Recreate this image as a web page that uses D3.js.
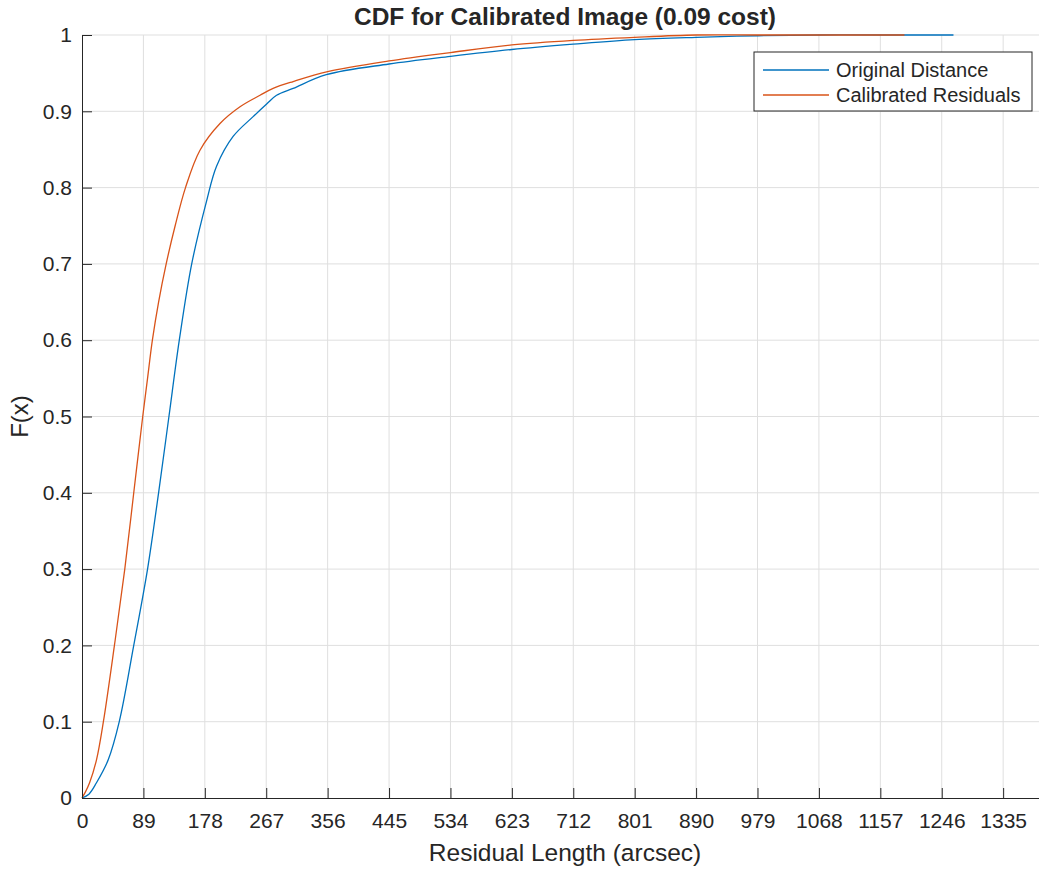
<!DOCTYPE html>
<html lang="en">

<head>
    <meta charset="UTF-8">
    <title>CDF for Calibrated Image</title>
    <style>
        body { margin: 0; background: #fff; }
        svg text { font-family: "Liberation Sans", Arial, Helvetica, sans-serif; fill: #262626; }
    </style>
</head>

<body>
    <div id="graph"></div>
    <script src="https://d3js.org/d3.v7.min.js"></script>

    <script>
        const WIDTH = 1039;
        const HEIGHT = 870;
        const LEFT = 82;
        const TOP = 35;
        const BOTTOM = 798;
        const X_MAX = 1400;

        const X_TICKS = [0, 89, 178, 267, 356, 445, 534, 623, 712, 801, 890, 979, 1068, 1157, 1246, 1335];
        const Y_TICKS = [0, 0.1, 0.2, 0.3, 0.4, 0.5, 0.6, 0.7, 0.8, 0.9, 1];

        // Original Distance
        const ORIG_X = [0, 10, 21, 38, 54, 75, 95, 111, 126, 141, 159, 181, 195, 219, 248, 268, 282, 306, 354, 445, 534, 623, 712, 801, 890, 980, 1070, 1160, 1263];
        const ORIG_F = [0, 0.005, 0.02, 0.05, 0.1, 0.2, 0.3, 0.4, 0.5, 0.6, 0.7, 0.784, 0.828, 0.867, 0.893, 0.910, 0.921, 0.930, 0.948, 0.962, 0.972, 0.981, 0.988, 0.994, 0.997, 0.999, 1, 1, 1];

        // Calibrated Residuals
        const CAL_X = [0, 5, 11, 21, 31, 47, 62, 75, 88, 95, 102, 111, 122, 135, 150, 171, 200, 229, 258, 277, 306, 356, 445, 534, 623, 712, 801, 890, 980, 1070, 1192];
        const CAL_F = [0, 0.008, 0.02, 0.05, 0.1, 0.2, 0.3, 0.4, 0.5, 0.55, 0.6, 0.65, 0.7, 0.75, 0.8, 0.849, 0.884, 0.906, 0.921, 0.930, 0.939, 0.952, 0.966, 0.977, 0.987, 0.993, 0.997, 1.0, 1, 1, 1];

        const SERIES = [
            { name: "Original Distance", color: "#0072BD", xs: ORIG_X, fs: ORIG_F },
            { name: "Calibrated Residuals", color: "#D95319", xs: CAL_X, fs: CAL_F },
        ];

        const xScale = d3.scaleLinear()
            .domain([0, X_MAX])
            .range([LEFT, LEFT + 966]);

        const yScale = d3.scaleLinear()
            .domain([0, 1])
            .range([BOTTOM, TOP]);

        const svg = d3.select("#graph")
            .append("svg")
            .attr("width", WIDTH)
            .attr("height", HEIGHT);

        // grid
        svg.append("g")
            .selectAll("line.v")
            .data(X_TICKS.slice(1))
            .enter()
            .append("line")
            .attr("x1", d => xScale(d)).attr("x2", d => xScale(d))
            .attr("y1", TOP).attr("y2", BOTTOM)
            .attr("stroke", "#dfdfdf");

        svg.append("g")
            .selectAll("line.h")
            .data(Y_TICKS.slice(1))
            .enter()
            .append("line")
            .attr("x1", LEFT).attr("x2", xScale(X_MAX))
            .attr("y1", d => yScale(d)).attr("y2", d => yScale(d))
            .attr("stroke", "#dfdfdf");

        // curves
        const line = d3.line()
            .curve(d3.curveCatmullRom.alpha(0.5))
            .x(d => xScale(d[0]))
            .y(d => yScale(d[1]));

        SERIES.forEach(s => {
            svg.append("path")
                .datum(s.xs.map((x, i) => [x, s.fs[i]]))
                .attr("d", line)
                .attr("fill", "none")
                .attr("stroke", s.color)
                .attr("stroke-width", 1.3);
        });

        // axes
        const xAxis = svg.append("g")
            .attr("transform", `translate(0, ${BOTTOM})`)
            .call(d3.axisBottom(xScale)
                .tickValues(X_TICKS)
                .tickFormat(d => d)
                .tickSizeInner(-10)
                .tickSizeOuter(0)
                .tickPadding(15));

        const yAxis = svg.append("g")
            .attr("transform", `translate(${LEFT}, 0)`)
            .call(d3.axisLeft(yScale)
                .tickValues(Y_TICKS)
                .tickFormat(d => d)
                .tickSizeInner(-10)
                .tickSizeOuter(0)
                .tickPadding(10));

        [xAxis, yAxis].forEach(a => {
            a.select(".domain").attr("stroke", "#262626");
            a.selectAll(".tick line").attr("stroke", "#262626");
            a.selectAll(".tick text")
                .attr("fill", "#262626")
                .style("font-size", "21px")
                .style("font-family", "\"Liberation Sans\", Arial, sans-serif");
        });

        // titles
        svg.append("text")
            .attr("x", xScale(X_MAX / 2))
            .attr("y", 25)
            .attr("text-anchor", "middle")
            .style("font-size", "24.5px")
            .style("font-weight", "bold")
            .attr("fill", "#000")
            .text("CDF for Calibrated Image (0.09 cost)");

        svg.append("text")
            .attr("x", xScale(X_MAX / 2))
            .attr("y", 861)
            .attr("text-anchor", "middle")
            .style("font-size", "24.5px")
            .text("Residual Length (arcsec)");

        svg.append("text")
            .attr("transform", `translate(28, ${yScale(0.5)}) rotate(-90)`)
            .attr("text-anchor", "middle")
            .style("font-size", "24px")
            .text("F(x)");

        // legend
        const legend = svg.append("g");
        legend.append("rect")
            .attr("x", 754).attr("y", 52)
            .attr("width", 278).attr("height", 59)
            .attr("fill", "#fff")
            .attr("stroke", "#262626");

        SERIES.forEach((s, i) => {
            const y = 70 + i * 25;
            legend.append("line")
                .attr("x1", 763).attr("x2", 829)
                .attr("y1", y).attr("y2", y)
                .attr("stroke", s.color)
                .attr("stroke-width", 1.3);
            legend.append("text")
                .attr("x", 836).attr("y", y + 7)
                .style("font-size", "20px")
                .text(s.name);
        });
    </script>
</body>

</html>
